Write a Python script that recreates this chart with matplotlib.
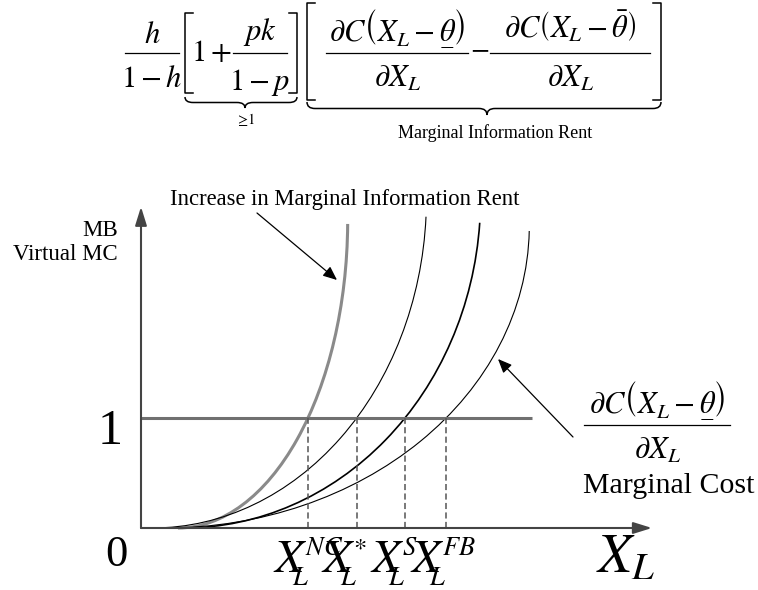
import numpy as np
import matplotlib.pyplot as plt
from matplotlib.patches import Arc, PathPatch
from matplotlib.path import Path
from matplotlib.mathtext import MathTextParser

plt.rcParams['font.family'] = 'serif'
plt.rcParams['font.serif'] = ['Liberation Serif', 'DejaVu Serif']
plt.rcParams['mathtext.fontset'] = 'stix'

# MB normalised to 1, quantities in arbitrary units of X_L
mb_level = 1.0
x_points = [1.52, 1.96, 2.40, 2.77]
point_sups = ['NC', '*', 'S', 'FB']

# virtual MC curves (quarter ellipses): start, half width, half height, top
curve_start = [0.336, 0.104, 0.387, 0.220]
curve_halfwidth = [1.543, 2.491, 2.700, 3.310]
curve_halfheight = [2.80, 3.00, 3.00, 2.75]
curve_top = [2.764, 2.830, 2.775, 2.70]

curve_colors = ['#8a8a8a', 'black', 'black', 'black']
curve_widths = [2.2, 0.8, 1.2, 0.8]

# mathtext has no \underline, try \underset
try:
    MathTextParser('path').parse(r'$\underset{-}{\theta}$')
    theta_low = r'\underset{-}{\theta}'
except ValueError:
    theta_low = r'\theta'

SCALE = 110.0  # pixels per unit
W, H = 758, 590
X0, Y0 = 141, 528  # origin in pixels


def px(x, y):
    # pixel position (from top left) -> data coords
    return (x - X0) / SCALE, (Y0 - y) / SCALE


fig = plt.figure(figsize=(W / 100, H / 100), dpi=100)
ax = fig.add_axes([0, 0, 1, 1])
ax.set_xlim(-X0 / SCALE, (W - X0) / SCALE)
ax.set_ylim((Y0 - H) / SCALE, Y0 / SCALE)
ax.axis('off')

# axes with arrows
axis_kw = dict(arrowstyle='-|>,head_length=0.8,head_width=0.25', color='#444444',
               lw=1.5, mutation_scale=14, shrinkA=0, shrinkB=0)
ax.annotate('', xy=(0, 2.92), xytext=(0, 0), arrowprops=axis_kw)
ax.annotate('', xy=(4.645, 0), xytext=(0, 0), arrowprops=axis_kw)

# MB = 1
ax.plot([0, 3.555], [mb_level, mb_level], color='#707070', lw=2.2, solid_capstyle='butt')

# cost curves
for x0, a, b, top, col, lw in zip(curve_start, curve_halfwidth, curve_halfheight,
                                  curve_top, curve_colors, curve_widths):
    s = np.sqrt(1 - (1 - top / b) ** 2)
    theta2 = np.degrees(np.arctan2(top - b, a * s)) % 360
    ax.add_patch(Arc((x0, b), 2 * a, 2 * b, theta1=270, theta2=theta2,
                     color=col, lw=lw))

# dashed drop lines and the X_L^k labels
for xp, sup in zip(x_points, point_sups):
    ax.plot([xp, xp], [0, mb_level], color='#555555', lw=1.1,
            linestyle=(0, (4, 2.2)))
    xl = xp - 0.32
    ax.text(xl, -0.40, r'$X$', fontsize=34, ha='left', va='baseline')
    ax.text(xl + 0.17, -0.52, r'$L$', fontsize=19, ha='left', va='baseline')
    ax.text(xl + 0.29, -0.245, '$' + sup + '$', fontsize=19, ha='left', va='baseline')

ax.text(*px(596, 573), r'$X_L$', fontsize=40, ha='left', va='baseline')
ax.text(*px(116, 566), '0', fontsize=32, ha='center', va='baseline')
ax.text(*px(110, 444), '1', fontsize=36, ha='center', va='baseline')

ax.text(*px(118, 231), 'MB', fontsize=16.5, ha='right', va='center')
ax.text(*px(118, 255), 'Virtual MC', fontsize=16.5, ha='right', va='center')

ax.text(*px(170, 199), 'Increase in Marginal Information Rent', fontsize=16.3,
        ha='left', va='center')
arr_kw = dict(arrowstyle='-|>,head_length=0.7,head_width=0.3', color='black',
              lw=0.9, mutation_scale=12, shrinkA=0, shrinkB=0)
ax.annotate('', xy=px(337, 280), xytext=px(257, 213), arrowprops=arr_kw)
ax.annotate('', xy=px(498, 359), xytext=px(573, 437), arrowprops=arr_kw)


def frac(xc, ybar, half, num, den, fs=22, gap_n=10, gap_d=12):
    # fraction built by hand, pixel coords
    x1, y = px(xc - half, ybar)
    x2, _ = px(xc + half, ybar)
    ax.plot([x1, x2], [y, y], color='black', lw=0.9)
    ax.text(*px(xc, ybar - gap_n), num, fontsize=fs, ha='center', va='baseline')
    ax.text(*px(xc, ybar + gap_d), den, fontsize=fs, ha='center', va='top')


def bracket(x, y1, y2, side):
    # square bracket, side = +1 opens right, -1 opens left
    xs = [x + side * 8, x, x, x + side * 8]
    ys = [y1, y1, y2, y2]
    pts = [px(a, b) for a, b in zip(xs, ys)]
    ax.plot([p[0] for p in pts], [p[1] for p in pts], color='black', lw=1.1)


def brace(x1, x2, xm, y, depth):
    # horizontal curly brace pointing down, pixel coords
    p = [px(x1, y), px(x1, y + depth / 2), px(x1 + 8, y + depth / 2),
         px(xm - 8, y + depth / 2), px(xm, y + depth / 2), px(xm, y + depth),
         px(xm, y + depth / 2), px(xm + 8, y + depth / 2),
         px(x2 - 8, y + depth / 2), px(x2, y + depth / 2), px(x2, y)]
    codes = [Path.MOVETO, Path.CURVE3, Path.CURVE3, Path.LINETO,
             Path.CURVE3, Path.CURVE3, Path.CURVE3, Path.CURVE3,
             Path.LINETO, Path.CURVE3, Path.CURVE3]
    ax.add_patch(PathPatch(Path(p, codes), fill=False, lw=1.1, color='black'))


num_low = r'$\partial C\left(X_L-' + theta_low + r'\right)$'
num_bar = r'$\partial C\left(X_L-\bar{\theta}\right)$'
den = r'$\partial X_L$'

# formula on top
frac(152, 53, 27, r'$h$', r'$1-h$', gap_n=10, gap_d=12)
bracket(185, 13, 93, 1)
ax.text(*px(212, 54), r'$1+$', fontsize=22, ha='center', va='center')
frac(260, 53, 27, r'$pk$', r'$1-p$', gap_n=13, gap_d=14)
bracket(297, 13, 93, -1)

bracket(307, 3, 100, 1)
frac(397, 53, 71, num_low, den, gap_n=15, gap_d=12)
ax.text(*px(480, 50), r'$-$', fontsize=20, ha='center', va='center')
frac(570, 53, 80, num_bar, den, gap_n=15, gap_d=12)
bracket(661, 3, 100, -1)

brace(185, 297, 245, 97, 11)
brace(307, 661, 487, 102, 13)
ax.text(*px(245, 120), r'$\geq\!1$', fontsize=10.5, ha='center', va='center')
ax.text(*px(495, 133), 'Marginal Information Rent', fontsize=13,
        ha='center', va='center')

# marginal cost label on the right
frac(657, 425, 73, num_low, den, gap_n=15, gap_d=12)
ax.text(*px(583, 486), 'Marginal Cost', fontsize=21.5, ha='left', va='center')

fig.savefig('out.png', dpi=100)
